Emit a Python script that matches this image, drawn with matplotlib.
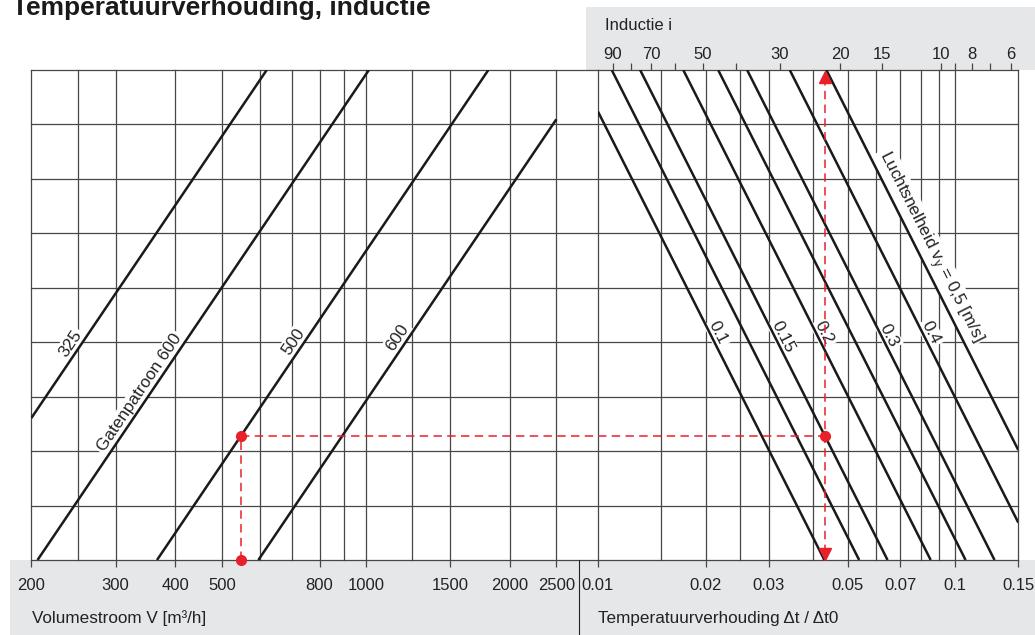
import numpy as np
import matplotlib.pyplot as plt
from matplotlib.patches import Rectangle
from matplotlib.lines import Line2D
from matplotlib.ticker import FixedLocator, NullLocator

plt.rcParams['font.family'] = ['Liberation Sans', 'DejaVu Sans']
plt.rcParams['mathtext.fontset'] = 'custom'
plt.rcParams['mathtext.rm'] = 'Liberation Sans'
plt.rcParams['mathtext.it'] = 'Liberation Sans:italic'

# ---- left half: volume flow per hole pattern ----
vol_grid = [200, 250, 300, 400, 500, 600, 700, 800, 900, 1000, 1250, 1500, 2000, 2500]
vol_ticks = [200, 300, 400, 500, 800, 1000, 1500, 2000, 2500]
vol_names = ['325', 'Gatenpatroon 600', '500', '600']
vol_at_base = [126, 206, 366, 596]          # m3/h where each curve meets the bottom edge

# ---- right half: temperature ratio per air speed ----
ratio_grid = [0.01, 0.015, 0.02, 0.025, 0.03, 0.04, 0.05, 0.06, 0.07, 0.08, 0.09, 0.1, 0.15]
ratio_ticks = [0.01, 0.02, 0.03, 0.05, 0.07, 0.1, 0.15]
speed_names = ['0.1', '', '0.15', '0.2', '', '0.3', '0.4',
               r'Luchtsnelheid v$_{\mathrm{y}}$ = 0,5 [m/s]']
ratio_at_base = [0.0430, 0.0538, 0.0646, 0.0853, 0.1068, 0.1287, 0.1694, 0.2145]

induction_ticks = [90, 80, 70, 60, 50, 40, 30, 20, 15, 10, 9, 8, 7, 6]
induction_labels = [90, 70, 50, 30, 20, 15, 10, 8, 6]

rows_per_decade = 13.0                      # steepness of all curves
n_rows = 9

# worked example: 548 m3/h on pattern 500, air speed 0.15 m/s
example_flow = 548
example_curve = 2
example_speed = 2

# label placement (row height of text centre)
vol_label_row = [3.97, 3.07, 4.01, 4.08]
speed_label_row = [4.17, None, 4.10, 4.17, None, 4.13, 4.17, 5.75]

W, H = 1035, 635
grid_c = '#474747'
line_c = '#1a1a1a'
text_c = '#222222'
red = '#e8202a'
band = '#e6e7e8'
fs_tick = 12
fs = 12.3


def px_rect(x0, y0, x1, y1):
    return [x0 / W, 1 - y1 / H, (x1 - x0) / W, (y1 - y0) / H]


fig = plt.figure(figsize=(W / 100, H / 100), dpi=100)

# grey bands behind the axes
fig.patches.append(Rectangle((586 / W, 1 - 70 / H), (W - 586) / W, 63 / H,
                             transform=fig.transFigure, fc=band, ec='none', zorder=-2))
fig.patches.append(Rectangle((10 / W, 0), (W - 10) / W, 75 / H,
                             transform=fig.transFigure, fc=band, ec='none', zorder=-2))
fig.add_artist(Line2D([579 / W, 579 / W], [0, 75 / H], color='#222222', lw=0.8))

vol_right = 200 * 10 ** ((598 - 31.4) / 478.6)
ax_l = fig.add_axes(px_rect(31.4, 70, 598, 560))
ax_r = fig.add_axes(px_rect(598, 70, 1018.3, 560))

ax_l.set_xscale('log')
ax_l.set_xlim(200, vol_right)
ax_r.set_xscale('log')
ax_r.set_xlim(0.01, 0.15)

for ax in (ax_l, ax_r):
    ax.set_ylim(0, n_rows)
    ax.set_yticks([])
    for s in ax.spines.values():
        s.set_visible(False)
    for j in range(n_rows + 1):
        ax.axhline(j, color=grid_c, lw=0.9, zorder=1, clip_on=False)
    ax.xaxis.set_minor_locator(NullLocator())
    ax.tick_params(axis='x', direction='out', length=5, width=0.9, color=grid_c,
                   pad=8.2, labelsize=fs_tick, labelcolor=text_c)

for v in vol_grid:
    ax_l.axvline(v, color=grid_c, lw=0.9, zorder=1, clip_on=False)
for r in ratio_grid:
    ax_r.axvline(r, color=grid_c, lw=0.9, zorder=1, clip_on=False)

ax_l.xaxis.set_major_locator(FixedLocator(vol_ticks))
ax_l.set_xticklabels([str(v) for v in vol_ticks])
ax_r.xaxis.set_major_locator(FixedLocator(ratio_ticks))
ax_r.set_xticklabels([f'{r:g}' for r in ratio_ticks])


def text_angle(ax, p, q):
    a = ax.transData.transform(p)
    b = ax.transData.transform(q)
    return np.degrees(np.arctan2(b[1] - a[1], b[0] - a[0]))


# volume curves (rise to the right)
k = rows_per_decade
for v0, name, row in zip(vol_at_base, vol_names, vol_label_row):
    v_lo = max(200, v0)
    v_hi = min(2500, v0 * 10 ** (n_rows / k))
    vv = np.array([v_lo, v_hi])
    ax_l.plot(vv, k * np.log10(vv / v0), color=line_c, lw=1.8, zorder=3,
              solid_capstyle='butt')
    ang = text_angle(ax_l, (v0, 0), (v0 * 10 ** (1 / k), 1))
    vl = v0 * 10 ** (row / k)
    ax_l.annotate(name, (vl, row), xytext=(-11, 0), textcoords='offset pixels',
                  rotation=ang, rotation_mode='anchor', ha='center', va='center',
                  fontsize=fs, color=text_c, zorder=2,
                  bbox=dict(fc='white', ec='none', pad=1.5))

# air speed curves (fall to the right)
for r0, name, row in zip(ratio_at_base, speed_names, speed_label_row):
    r_lo = max(0.01, r0 / 10 ** (n_rows / k))
    r_hi = min(0.15, r0)
    rr = np.array([r_lo, r_hi])
    ax_r.plot(rr, k * np.log10(r0 / rr), color=line_c, lw=1.8, zorder=3,
              solid_capstyle='butt')
    if name:
        ang = text_angle(ax_r, (r0 / 10 ** (1 / k), 1), (r0, 0))
        rl = r0 / 10 ** (row / k)
        shift = 14 if len(name) > 4 else 8
        ax_r.annotate(name, (rl, row), xytext=(shift, 0), textcoords='offset pixels',
                      rotation=ang, rotation_mode='anchor', ha='center', va='center',
                      fontsize=fs, color=text_c, zorder=2,
                      bbox=dict(fc='white', ec='none', pad=1.5))

# induction scale on top, i = 1/ratio - 1
ax_t = ax_r.twiny()
ax_t.set_xscale('log')
ax_t.set_xlim(ax_r.get_xlim())
ax_t.set_ylim(0, n_rows)
for s in ax_t.spines.values():
    s.set_visible(False)
ax_t.xaxis.set_minor_locator(NullLocator())
ax_t.xaxis.set_major_locator(FixedLocator([1 / (1 + i) for i in induction_ticks]))
ax_t.set_xticklabels([str(i) if i in induction_labels else '' for i in induction_ticks])
ax_t.tick_params(axis='x', direction='out', length=5, width=0.9, color=grid_c,
                 pad=0.5, labelsize=fs_tick, labelcolor=text_c)

# worked example
y_ex = k * np.log10(example_flow / vol_at_base[example_curve])
r_ex = ratio_at_base[example_speed] / 10 ** (y_ex / k)
dash = (0, (5.5, 3.5))
ax_l.plot([example_flow, example_flow], [0, y_ex], ls=dash, color=red, lw=1.1, zorder=4)
ax_l.plot([example_flow, vol_right], [y_ex, y_ex], ls=dash, color=red, lw=1.1, zorder=4)
ax_r.plot([0.01, r_ex], [y_ex, y_ex], ls=dash, color=red, lw=1.1, zorder=4)
ax_r.plot([r_ex, r_ex], [0.12, n_rows - 0.12], ls=dash, color=red, lw=1.1, zorder=4)
ax_l.plot([example_flow, example_flow], [0, y_ex], 'o', ms=7, color=red,
          zorder=5, clip_on=False)
ax_r.plot([r_ex], [y_ex], 'o', ms=7, color=red, zorder=5)
ax_r.plot([r_ex], [n_rows - 0.12], '^', ms=8.5, color=red, zorder=5, clip_on=False)
ax_r.plot([r_ex], [0.11], 'v', ms=8.5, color=red, zorder=5, clip_on=False)

# titles and axis names
fig.text(11.5 / W, 1 - 15 / H, 'Temperatuurverhouding, inductie', fontsize=19,
         fontweight='bold', va='baseline', ha='left', color='#1a1a1a')
fig.text(605 / W, 1 - 25 / H, 'Inductie i', fontsize=12, va='center', ha='left',
         color=text_c)
fig.text(32 / W, 1 - 618 / H, 'Volumestroom V [m³/h]', fontsize=fs, va='center',
         ha='left', color=text_c)
fig.text(598 / W, 1 - 618 / H, 'Temperatuurverhouding Δt / Δt0', fontsize=fs,
         va='center', ha='left', color=text_c)

fig.savefig('out.png', dpi=100)
